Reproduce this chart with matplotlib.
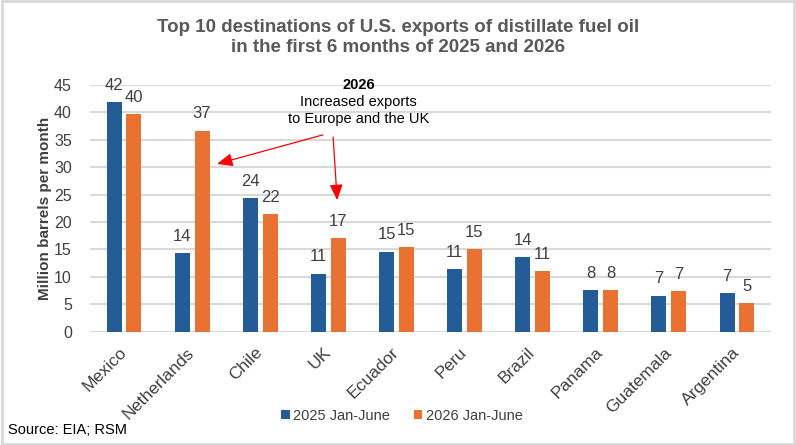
import numpy as np
import matplotlib.pyplot as plt
from matplotlib.patches import Rectangle

plt.rcParams['font.family'] = ['Liberation Sans', 'DejaVu Sans']

# Dados (milhões de barris por mês)
paises = ['Mexico', 'Netherlands', 'Chile', 'UK', 'Ecuador',
          'Peru', 'Brazil', 'Panama', 'Guatemala', 'Argentina']
jan_jun_2025 = [41.9, 14.4, 24.4, 10.6, 14.6, 11.4, 13.6, 7.6, 6.6, 7.1]
jan_jun_2026 = [39.7, 36.7, 21.5, 17.1, 15.4, 15.1, 11.1, 7.6, 7.4, 5.2]
rotulos_serie = ['2025 Jan-June', '2026 Jan-June']

azul = '#235C96'
laranja = '#E97132'
cinza_txt = '#404040'

fig = plt.figure(figsize=(7.96, 4.45), dpi=100)
ax = fig.add_axes([90 / 796, 1 - 331.7 / 445, 681 / 796, (331.7 - 85) / 445])

x = np.arange(len(paises))
largura = 0.22
desl = 0.145
b1 = ax.bar(x - desl, jan_jun_2025, largura, color=azul, label=rotulos_serie[0], zorder=3)
b2 = ax.bar(x + desl, jan_jun_2026, largura, color=laranja, label=rotulos_serie[1], zorder=3)

for barras in (b1, b2):
    for r in barras:
        ax.annotate(f'{r.get_height():.0f}', (r.get_x() + r.get_width() / 2, r.get_height()),
                    xytext=(0, 12), textcoords='offset points', ha='center', va='center',
                    fontsize=12, color=cinza_txt)

ax.set_xlim(-0.5, len(paises) - 0.5)
ax.set_ylim(0, 45)
ax.set_yticks(range(0, 46, 5))
ax.yaxis.grid(True, color='#D9D9D9', linewidth=1.5, zorder=0)
ax.set_axisbelow(True)
for s in ax.spines.values():
    s.set_visible(False)
ax.tick_params(axis='both', length=0, labelsize=11.5, colors=cinza_txt)
ax.tick_params(axis='y', pad=13)
ax.set_xticks(x)
ax.set_xticklabels(paises, rotation=45, ha='right', va='center', rotation_mode='anchor',
                   fontsize=12.5)
for lbl in ax.get_xticklabels():
    lbl.set_y(-0.055)
ax.set_ylabel('Million barrels per month', fontsize=11, fontweight='bold',
              color=cinza_txt, labelpad=1.5)

# Título
fig.text(0.5, 1 - 28 / 445, 'Top 10 destinations of U.S. exports of distillate fuel oil',
         ha='center', va='center', fontsize=13.5, fontweight='bold', color='#595959')
fig.text(0.5, 1 - 48 / 445, 'in the first 6 months of 2025 and 2026',
         ha='center', va='center', fontsize=13.5, fontweight='bold', color='#595959')

# Anotação
ax.text(3.44, 45.0, '2026', ha='center', va='center', fontsize=10.5,
        fontweight='bold', color='black', clip_on=False)
ax.text(3.44, 41.9, 'Increased exports', ha='center', va='center', fontsize=10.5,
        color='black', clip_on=False)
ax.text(3.44, 38.8, 'to Europe and the UK', ha='center', va='center', fontsize=10.5,
        color='black', clip_on=False)
seta = dict(arrowstyle='-|>,head_length=0.95,head_width=0.4', color='#FF0000',
            lw=0.9, shrinkA=0, shrinkB=0)
ax.annotate('', xy=(1.365, 30.6), xytext=(2.92, 35.9), arrowprops=seta)
ax.annotate('', xy=(3.13, 24.0), xytext=(3.07, 35.5), arrowprops=seta)

# Legenda e fonte
fig.legend(handles=[b1, b2], labels=rotulos_serie, loc='center',
           bbox_to_anchor=(0.505, 1 - 416 / 445), ncol=2, frameon=False,
           fontsize=10.5, handlelength=0.6, handleheight=0.6, handletextpad=0.25,
           columnspacing=1.6, labelcolor=cinza_txt)
fig.text(8 / 796, 1 - 430 / 445, 'Source: EIA; RSM', ha='left', va='center',
         fontsize=10.5, color='black')

# Moldura
fig.patches.append(Rectangle((0.002, 0.003), 0.996, 0.994, transform=fig.transFigure,
                             fill=False, edgecolor='#D9D9D9', linewidth=2))

fig.savefig('out.png', dpi=100)
